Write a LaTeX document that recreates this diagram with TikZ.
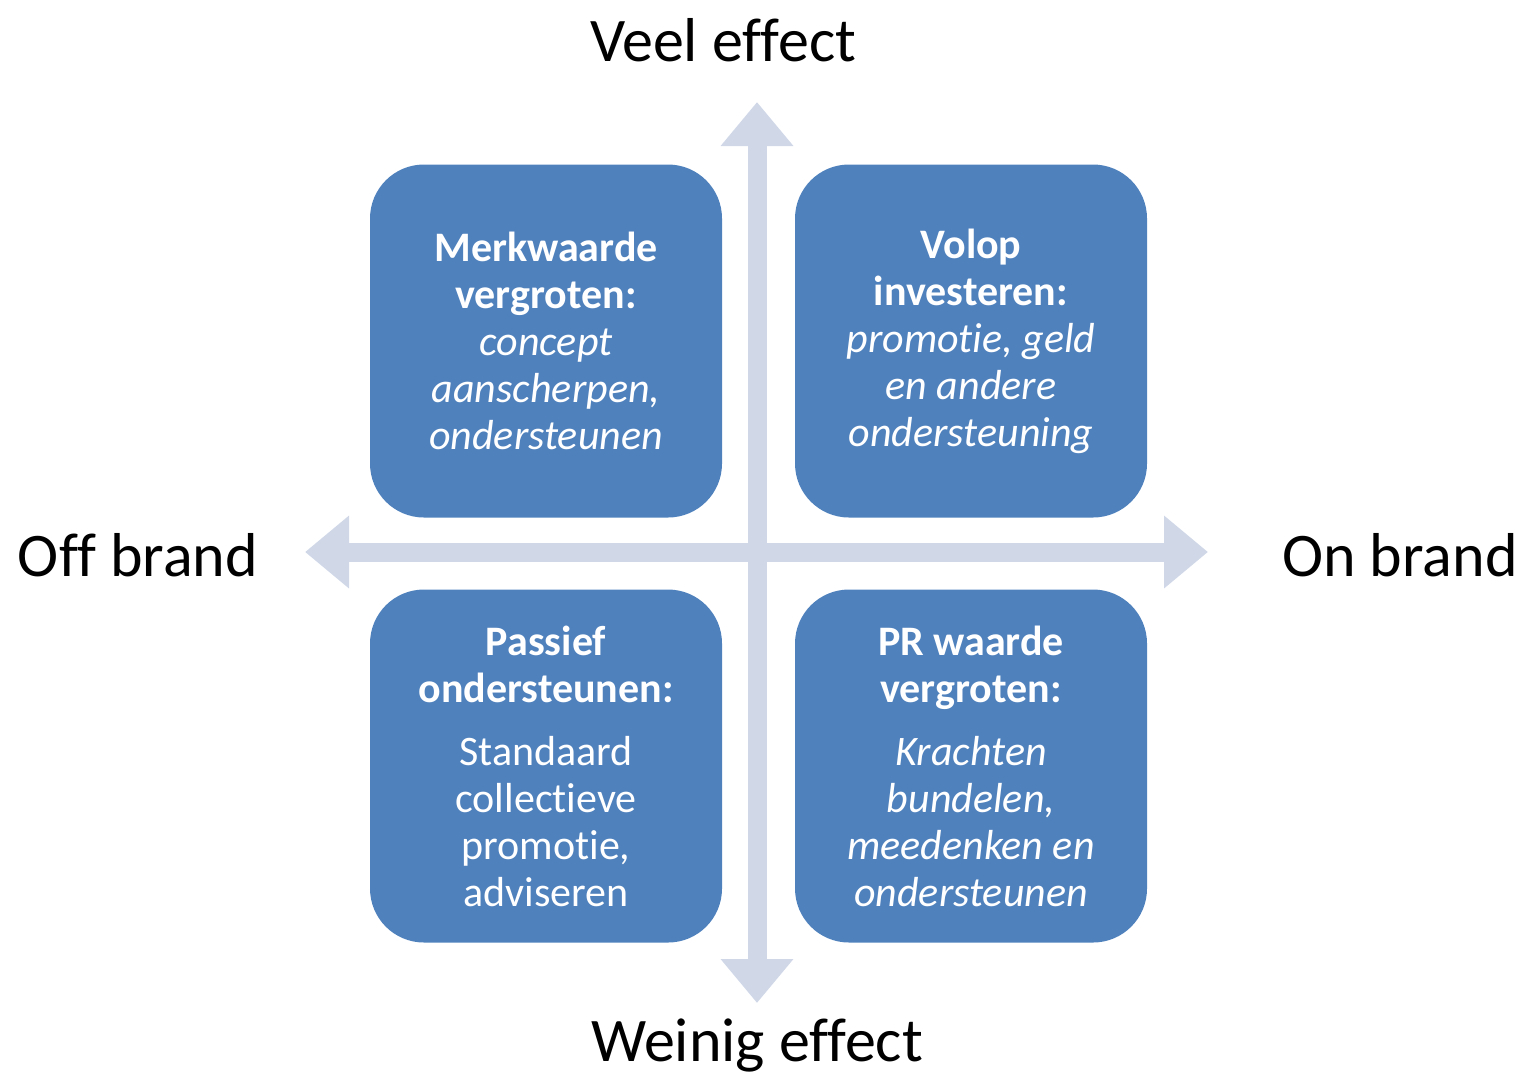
\documentclass[tikz,border=0pt]{standalone}
\usepackage{fontspec}
\setmainfont{Carlito}[Ligatures={NoCommon}]
\usetikzlibrary{arrows.meta}
\definecolor{quadblue}{HTML}{4F81BD}
\definecolor{axisfill}{HTML}{D0D8E8}

\begin{document}
\begin{tikzpicture}[x=0.5pt,y=-0.5pt,
  quad/.style={rectangle,rounded corners=27pt,fill=quadblue,text=white,
    minimum width=176pt,minimum height=176.5pt,align=center,
    font=\fontsize{21}{23.5}\selectfont},
  axis/.style={axisfill,line width=9.5pt,
    {Triangle[width=35pt,length=22pt]}-{Triangle[width=35pt,length=22pt]}},
  axislabel/.style={font=\fontsize{31}{36}\selectfont}]
  \useasboundingbox (0,0) rectangle (1529,1078);
  % axis ends
  \coordinate (west)  at (305,552);
  \coordinate (east)  at (1208,552);
  \coordinate (north) at (757,102);
  \coordinate (south) at (757,1003);
  \draw[axis] (west) -- (east);
  \draw[axis] (south) -- (north);
  % quadrants
  \node[quad] (merk) at (546,341)
    {\textbf{Merkwaarde}\\\textbf{vergroten:}\\\textit{concept}\\
     \textit{aanscherpen,}\\\textit{ondersteunen}};
  \node[quad] (volop) at (971,341)
    {\textbf{Volop}\\\textbf{investeren:}\\\textit{promotie, geld}\\
     \textit{en andere}\\\textit{ondersteuning}};
  \node[quad] (passief) at (546,766)
    {\textbf{Passief}\\\textbf{ondersteunen:}\\[8pt]Standaard\\
     collectieve\\promotie,\\adviseren};
  \node[quad] (pr) at (971,766)
    {\textbf{PR waarde}\\\textbf{vergroten:}\\[8pt]\textit{Krachten}\\
     \textit{bundelen,}\\\textit{meedenken en}\\\textit{ondersteunen}};
  % axis labels
  \node[axislabel] (veel)   at (723,40)   {Veel effect};
  \node[axislabel] (weinig) at (757,1045) {Weinig effect};
  \node[axislabel] (off)    at (138,555)  {Off brand};
  \node[axislabel] (on)     at (1400,555) {On brand};
\end{tikzpicture}
\end{document}
